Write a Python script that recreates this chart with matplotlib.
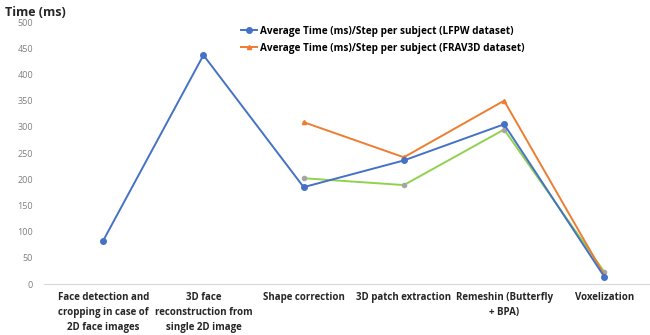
import matplotlib
matplotlib.use("Agg")
import matplotlib.pyplot as plt

# categories and values
steps = ["Face detection and\ncropping in case of\n2D face images",
         "3D face\nreconstruction from\nsingle 2D image",
         "Shape correction",
         "3D patch extraction",
         "Remeshin (Butterfly\n+ BPA)",
         "Voxelization"]
lfpw = [83, 437, 185, 236, 305, 14]
frav3d_idx = [2, 3, 4, 5]
frav3d = [309, 242, 350, 17]
third_idx = [2, 3, 4, 5]
third = [202, 189, 295, 23]

plt.rcParams['font.family'] = ['Open Sans', 'DejaVu Sans']

fig = plt.figure(figsize=(6.5, 3.35), dpi=100)
ax = fig.add_axes([0.068, 0.152, 0.932, 0.782])

x = list(range(len(steps)))
ax.plot(third_idx, third, color="#92d050", lw=1.4, marker="o", ms=3,
        mfc="#a5a5a5", mec="#a5a5a5")
ax.plot(frav3d_idx, frav3d, color="#ed7d31", lw=1.4, marker="^", ms=3,
        label="Average Time (ms)/Step per subject (FRAV3D dataset)")
ax.plot(x, lfpw, color="#4472c4", lw=1.4, marker="o", ms=4,
        label="Average Time (ms)/Step per subject (LFPW dataset)")

ax.set_xlim(-0.589, 5.456)
ax.set_ylim(0, 500)
ax.set_yticks(range(0, 501, 50))
ax.tick_params(axis="y", length=0, labelsize=6.5, labelcolor="#7f7f7f", pad=8)
ax.tick_params(axis="x", length=0, pad=6)
ax.set_xticks(x)
ax.set_xticklabels(steps, fontsize=7, fontweight="bold", color="#262626",
                   linespacing=1.5, va="top")
for s in ["top", "right", "left"]:
    ax.spines[s].set_visible(False)
ax.spines["bottom"].set_color("#d9d9d9")

handles, labels = ax.get_legend_handles_labels()
ax.legend(handles[::-1], labels[::-1], loc="upper left",
          bbox_to_anchor=(0.31, 1.02), frameon=False,
          prop={"weight": "bold", "size": 7.2}, handlelength=1.6,
          handletextpad=0.3, labelspacing=0.6)

fig.text(0.008, 0.952, "Time (ms)", fontsize=9, fontweight="bold", color="#262626")

fig.savefig("out.png", dpi=100)
